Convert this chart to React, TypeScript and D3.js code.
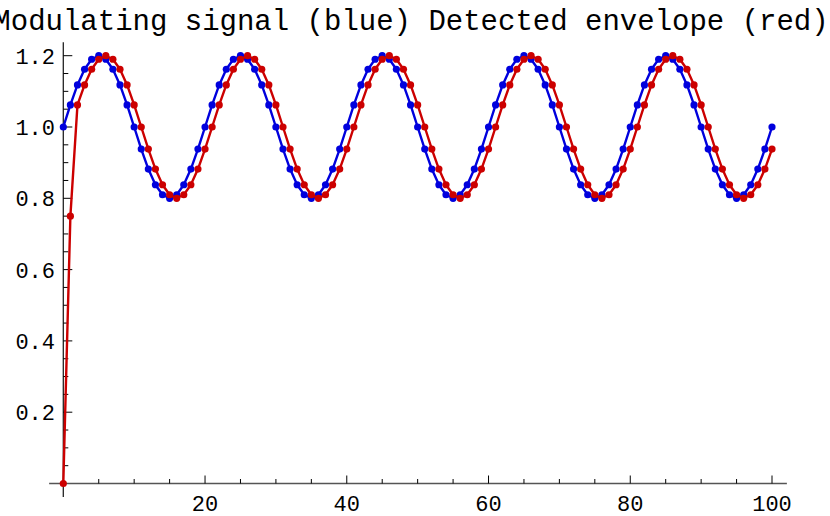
import React from "react";
import * as d3 from "d3";

const titleText = "Modulating signal (blue) Detected envelope (red)";

const tValues: number[] = [
  0, 1, 2, 3, 4, 5, 6, 7, 8, 9, 10, 11, 12, 13, 14, 15, 16, 17, 18, 19,
  20, 21, 22, 23, 24, 25, 26, 27, 28, 29, 30, 31, 32, 33, 34, 35, 36, 37, 38, 39,
  40, 41, 42, 43, 44, 45, 46, 47, 48, 49, 50, 51, 52, 53, 54, 55, 56, 57, 58, 59,
  60, 61, 62, 63, 64, 65, 66, 67, 68, 69, 70, 71, 72, 73, 74, 75, 76, 77, 78, 79,
  80, 81, 82, 83, 84, 85, 86, 87, 88, 89, 90, 91, 92, 93, 94, 95, 96, 97, 98, 99,
  100,
];

const modulating: number[] = [
  1.0, 1.062, 1.118, 1.162, 1.19, 1.2, 1.19, 1.162, 1.118, 1.062, 1.0, 0.938, 0.882, 0.838, 0.81, 0.8, 0.81, 0.838, 0.882, 0.938,
  1.0, 1.062, 1.118, 1.162, 1.19, 1.2, 1.19, 1.162, 1.118, 1.062, 1.0, 0.938, 0.882, 0.838, 0.81, 0.8, 0.81, 0.838, 0.882, 0.938,
  1.0, 1.062, 1.118, 1.162, 1.19, 1.2, 1.19, 1.162, 1.118, 1.062, 1.0, 0.938, 0.882, 0.838, 0.81, 0.8, 0.81, 0.838, 0.882, 0.938,
  1.0, 1.062, 1.118, 1.162, 1.19, 1.2, 1.19, 1.162, 1.118, 1.062, 1.0, 0.938, 0.882, 0.838, 0.81, 0.8, 0.81, 0.838, 0.882, 0.938,
  1.0, 1.062, 1.118, 1.162, 1.19, 1.2, 1.19, 1.162, 1.118, 1.062, 1.0, 0.938, 0.882, 0.838, 0.81, 0.8, 0.81, 0.838, 0.882, 0.938,
  1.0,
];

const envelope: number[] = [
  0.0, 0.75, 1.062, 1.118, 1.162, 1.19, 1.2, 1.19, 1.162, 1.118, 1.062, 1.0, 0.938, 0.882, 0.838, 0.81, 0.8, 0.81, 0.838, 0.882,
  0.938, 1.0, 1.062, 1.118, 1.162, 1.19, 1.2, 1.19, 1.162, 1.118, 1.062, 1.0, 0.938, 0.882, 0.838, 0.81, 0.8, 0.81, 0.838, 0.882,
  0.938, 1.0, 1.062, 1.118, 1.162, 1.19, 1.2, 1.19, 1.162, 1.118, 1.062, 1.0, 0.938, 0.882, 0.838, 0.81, 0.8, 0.81, 0.838, 0.882,
  0.938, 1.0, 1.062, 1.118, 1.162, 1.19, 1.2, 1.19, 1.162, 1.118, 1.062, 1.0, 0.938, 0.882, 0.838, 0.81, 0.8, 0.81, 0.838, 0.882,
  0.938, 1.0, 1.062, 1.118, 1.162, 1.19, 1.2, 1.19, 1.162, 1.118, 1.062, 1.0, 0.938, 0.882, 0.838, 0.81, 0.8, 0.81, 0.838, 0.882,
  0.938,
];

const xMajorTicks = [20, 40, 60, 80, 100];
const xTickLabels = ["20", "40", "60", "80", "100"];
const xMinorTicks = [5, 10, 15, 25, 30, 35, 45, 50, 55, 65, 70, 75, 85, 90, 95];
const yMajorTicks = [0.2, 0.4, 0.6, 0.8, 1.0, 1.2];
const yTickLabels = ["0.2", "0.4", "0.6", "0.8", "1.0", "1.2"];
const yMinorTicks = [0.05, 0.1, 0.15, 0.25, 0.3, 0.35, 0.45, 0.5, 0.55, 0.65, 0.7, 0.75, 0.85, 0.9, 0.95, 1.05, 1.1, 1.15];

const W = 830;
const H = 516;
const FONT = "'Liberation Mono', 'Courier New', monospace";
const BLUE = "#0000dd";
const RED = "#cc0000";

export default function App() {
  const x = d3.scaleLinear().domain([0, 100]).range([63.3, 772]);
  const y = d3.scaleLinear().domain([0, 1.2]).range([483.5, 55.7]);

  const blueData = tValues.map((t, i) => [t, modulating[i]] as [number, number]);
  const redData = tValues.map((t, i) => [t, envelope[i]] as [number, number]);
  const line = d3
    .line<[number, number]>()
    .x((d) => x(d[0]))
    .y((d) => y(d[1]));

  const axisColor = "#555";

  return (
    <svg
      width={W}
      height={H}
      style={{ position: "absolute", left: 0, top: 0, background: "#fff" }}
    >
      <text
        x={411}
        y={30}
        textAnchor="middle"
        fontFamily={FONT}
        fontSize={29}
        fill="#000"
      >
        {titleText}
      </text>

      {/* axes */}
      <line x1={x(-2)} x2={x(102.1)} y1={y(0)} y2={y(0)} stroke={axisColor} strokeWidth={1.3} />
      <line x1={x(0)} x2={x(0)} y1={y(-0.038)} y2={y(1.238)} stroke="#222" strokeWidth={1.3} />

      {xMajorTicks.map((t, i) => (
        <g key={"xm" + t}>
          <line x1={x(t)} x2={x(t)} y1={y(0)} y2={y(0) - 8} stroke="#000" strokeWidth={1} />
          <text
            x={x(t)}
            y={511}
            textAnchor="middle"
            fontFamily={FONT}
            fontSize={22}
            fill="#000"
          >
            {xTickLabels[i]}
          </text>
        </g>
      ))}
      {xMinorTicks.map((t) => (
        <line key={"xn" + t} x1={x(t)} x2={x(t)} y1={y(0)} y2={y(0) - 4.5} stroke="#000" strokeWidth={1} />
      ))}
      {yMajorTicks.map((t, i) => (
        <g key={"ym" + t}>
          <line x1={x(0)} x2={x(0) + 9} y1={y(t)} y2={y(t)} stroke="#000" strokeWidth={1} />
          <text
            x={55}
            y={y(t)}
            dy="0.36em"
            textAnchor="end"
            fontFamily={FONT}
            fontSize={22}
            fill="#000"
          >
            {yTickLabels[i]}
          </text>
        </g>
      ))}
      {yMinorTicks.map((t) => (
        <line key={"yn" + t} x1={x(0)} x2={x(0) + 5} y1={y(t)} y2={y(t)} stroke="#000" strokeWidth={1} />
      ))}

      {/* modulating signal */}
      <path d={line(blueData) || ""} fill="none" stroke={BLUE} strokeWidth={2.4} strokeLinejoin="round" />
      {blueData.map((d, i) => (
        <circle key={"b" + i} cx={x(d[0])} cy={y(d[1])} r={3.6} fill={BLUE} />
      ))}

      {/* detected envelope */}
      <path d={line(redData) || ""} fill="none" stroke={RED} strokeWidth={2.4} strokeLinejoin="round" />
      {redData.map((d, i) => (
        <circle key={"r" + i} cx={x(d[0])} cy={y(d[1])} r={3.6} fill={RED} />
      ))}
    </svg>
  );
}
